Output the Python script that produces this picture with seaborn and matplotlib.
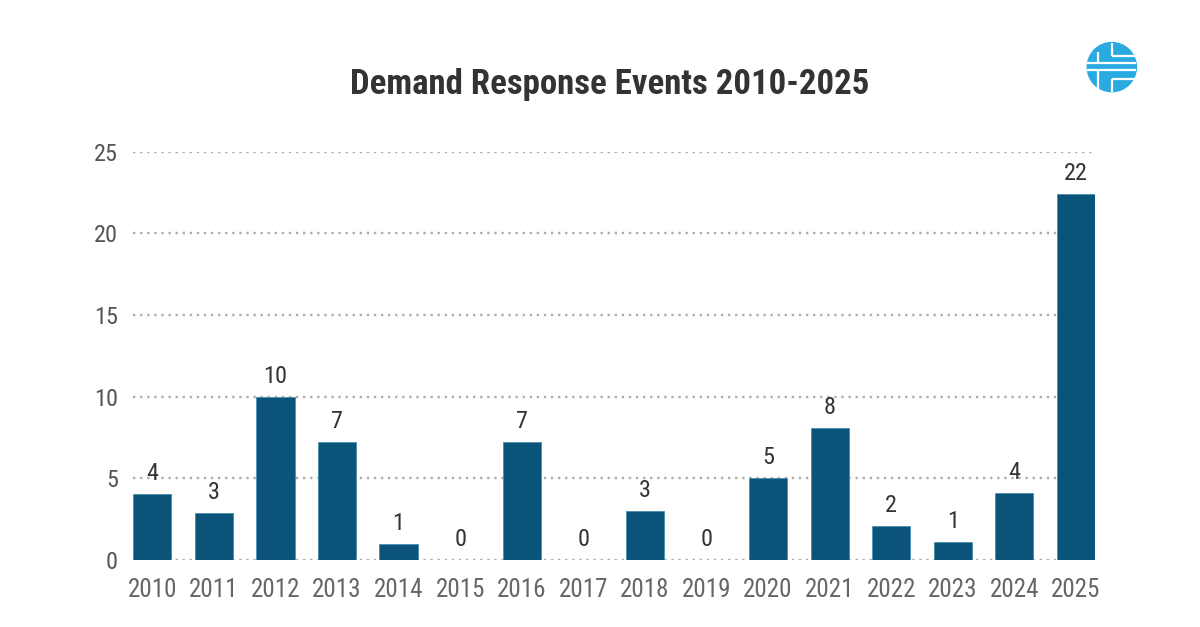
import matplotlib
matplotlib.use("Agg")
import matplotlib.pyplot as plt
import seaborn as sns
import pandas as pd
from matplotlib.patches import Circle

# === Data ===
years = [str(y) for y in range(2010, 2026)]
heights = [4.05, 2.9, 10.0, 7.2, 1.0, 0, 7.2, 0, 3.0, 0, 5.0, 8.1, 2.1, 1.1, 4.1, 22.4]
labels = [4, 3, 10, 7, 1, 0, 7, 0, 3, 0, 5, 8, 2, 1, 4, 22]
yticks = [0, 5, 10, 15, 20, 25]

df = pd.DataFrame({"year": years, "events": heights})

# === Style ===
sns.set_style("white")
plt.rcParams["font.family"] = ["Roboto Condensed", "Roboto", "DejaVu Sans"]

BAR = "#0B5479"
GRID = "#ADADAD"

fig = plt.figure(figsize=(12, 6.27), dpi=100)
ax = fig.add_axes([0.111, 0.107, 0.8015, 0.651])

sns.barplot(data=df, x="year", y="events", color=BAR, width=0.62,
            saturation=1, edgecolor="#4a8fb0", linewidth=0.6, ax=ax, zorder=3)

# value labels
for i, (h, lab) in enumerate(zip(heights, labels)):
    ax.text(i, h + 0.55, str(lab), ha="center", va="bottom",
            fontsize=17.5, color="#333333", zorder=4)

ax.set_ylim(0, 25)
ax.set_xlim(-0.31, len(years) - 0.69)
ax.set_yticks(yticks)
ax.yaxis.grid(True, linestyle=(0, (1, 2)), color=GRID, linewidth=1.7, zorder=0)
ax.set_axisbelow(True)
for s in ax.spines.values():
    s.set_visible(False)
ax.tick_params(axis="x", length=0, pad=13, labelsize=18, labelcolor="#666666")
ax.tick_params(axis="y", length=0, pad=11, labelsize=17.5, labelcolor="#555555")
ax.set_xlabel("")
ax.set_ylabel("")

fig.text(0.508, 0.865, "Demand Response Events 2010-2025", ha="center", va="center",
         fontsize=25, fontweight="bold", color="#333333")

# === Logo ===
lax = fig.add_axes([0.905, 0.85, 0.043, 0.086])
lax.set_xlim(-1.05, 1.05)
lax.set_ylim(-1.05, 1.05)
lax.set_aspect("equal")
lax.axis("off")
lax.add_patch(Circle((0, 0), 1, color="#29ABE2"))
w = dict(color="white", linewidth=1.6, solid_capstyle="butt")
lax.plot([0, 0], [1, 0.45], **w)
lax.plot([0, 1], [0.45, 0.45], **w)
lax.plot([-1, 1], [0.18, 0.18], **w)
lax.plot([-1, 1], [-0.12, -0.12], **w)
lax.plot([-0.58, -0.58], [-0.12, -1], **w)
lax.plot([0, 0], [-0.47, -1], **w)
lax.plot([0, 1], [-0.47, -0.47], **w)
lax.plot([-0.58, -0.58], [0.18, 0.6], **w)

fig.savefig("out.png", dpi=100)
